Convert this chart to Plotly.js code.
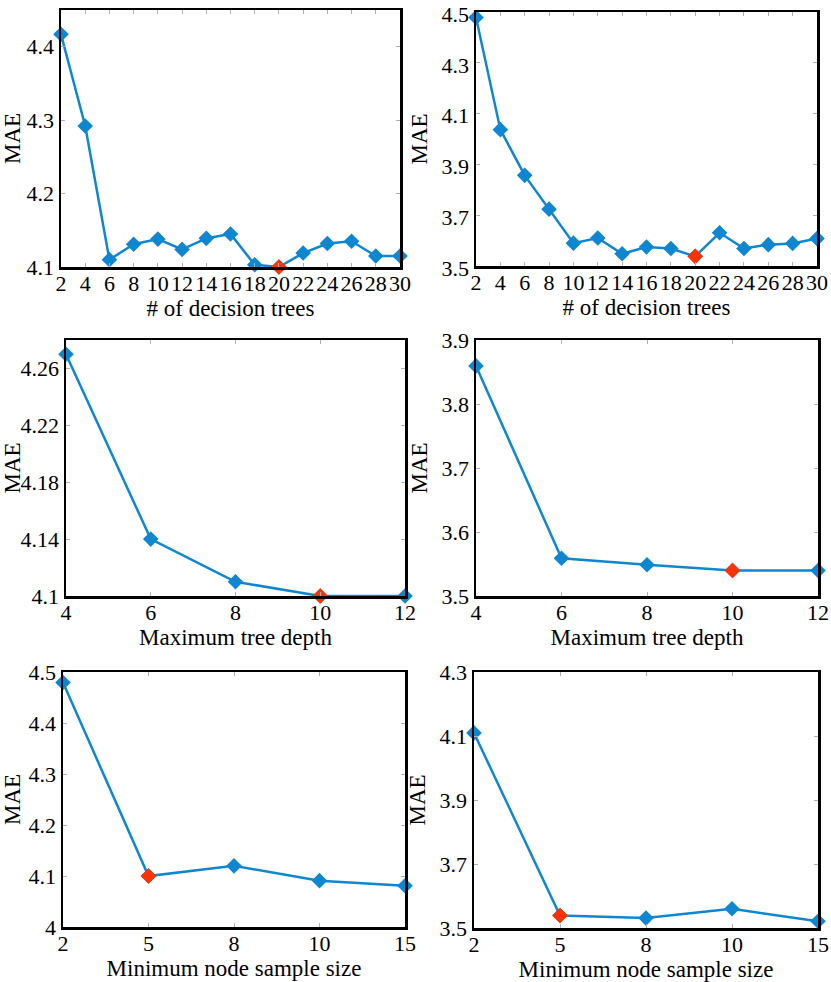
<!DOCTYPE html>
<html>
<head>
<meta charset="utf-8">
<script src="https://cdn.plot.ly/plotly-3.0.1.min.js"></script>
<style>
  body { margin: 0; background: #fff; }
  #chart { width: 831px; height: 982px; }
</style>
</head>
<body>
<div id="chart"></div>
<script>
// number of trees (top row)
var treesX = [2, 4, 6, 8, 10, 12, 14, 16, 18, 20, 22, 24, 26, 28, 30];
var treesLeft = [4.417, 4.292, 4.110, 4.131, 4.138, 4.124, 4.139, 4.145, 4.103, 4.100, 4.119, 4.132, 4.135, 4.115, 4.115];
var treesRight = [4.479, 4.037, 3.857, 3.724, 3.590, 3.610, 3.548, 3.575, 3.569, 3.538, 3.631, 3.569, 3.584, 3.589, 3.608];

// max depth (middle row)
var depthX = [4, 6, 8, 10, 12];
var depthLeft = [4.270, 4.140, 4.110, 4.100, 4.100];
var depthRight = [3.860, 3.559, 3.549, 3.540, 3.540];

// min node sample size (bottom row)
var nodeX = ['2', '5', '8', '10', '15'];
var nodeLeft = [4.48, 4.100, 4.120, 4.091, 4.081];
var nodeRight = [4.11, 3.539, 3.531, 3.560, 3.521];

// index of the best (red) point in each panel
var bestIdx = [9, 9, 3, 3, 1, 1];

var blue = '#0f86d0';
var red = '#ff3300';
var W = 831, H = 982;

// plot boxes in pixels: left, top, right, bottom
var boxes = [
  [61, 10, 400, 267], [476, 12, 817, 266],
  [66, 340, 405, 596], [476, 340, 818, 596],
  [63, 672, 405, 927], [474, 672, 818, 928]
];

var panels = [
  {x: treesX, y: treesLeft, title: '# of decision trees', xr: [2, 30], dx: 2, yr: [4.1, 4.45], yt: [4.1, 4.2, 4.3, 4.4]},
  {x: treesX, y: treesRight, title: '# of decision trees', xr: [2, 30], dx: 2, yr: [3.5, 4.5005], yt: [3.5, 3.7, 3.9, 4.1, 4.3, 4.5], shift: 2},
  {x: depthX, y: depthLeft, title: 'Maximum tree depth', xr: [4, 12], dx: 2, yr: [4.1, 4.28], yt: [4.1, 4.14, 4.18, 4.22, 4.26]},
  {x: depthX, y: depthRight, title: 'Maximum tree depth', xr: [4, 12], dx: 2, yr: [3.5, 3.9005], yt: [3.5, 3.6, 3.7, 3.8, 3.9]},
  {x: nodeX, y: nodeLeft, title: 'Minimum node sample size', xr: [0, 4], cat: true, yr: [4.0, 4.5005], yt: [4, 4.1, 4.2, 4.3, 4.4, 4.5]},
  {x: nodeX, y: nodeRight, title: 'Minimum node sample size', xr: [0, 4], cat: true, yr: [3.5, 4.3005], yt: [3.5, 3.7, 3.9, 4.1, 4.3]}
];

var font = 'Liberation Serif, Times New Roman, serif';
var data = [];
var layout = {
  width: W, height: H,
  margin: {l: 0, r: 0, t: 0, b: 0},
  paper_bgcolor: '#fff', plot_bgcolor: '#fff',
  showlegend: false,
  font: {family: font, size: 22, color: '#000'}
};

for (var i = 0; i < panels.length; i++) {
  var p = panels[i];
  var n = i + 1;
  var xa = 'x' + (n > 1 ? n : '');
  var ya = 'y' + (n > 1 ? n : '');
  var b = boxes[i];

  data.push({
    x: p.x, y: p.y, xaxis: xa, yaxis: ya,
    type: 'scatter', mode: 'lines+markers',
    line: {color: blue, width: 2.5},
    marker: {symbol: 'diamond', size: 12, color: blue},
    cliponaxis: false
  });
  data.push({
    x: [p.x[bestIdx[i]]], y: [p.y[bestIdx[i]]], xaxis: xa, yaxis: ya,
    type: 'scatter', mode: 'markers',
    marker: {symbol: 'diamond', size: 12, color: red},
    cliponaxis: false
  });

  var xax = {
    domain: [b[0] / W, b[2] / W],
    anchor: ya,
    range: p.xr,
    showgrid: false, zeroline: false,
    showline: true, linecolor: '#000', linewidth: 2.5, mirror: 'allticks',
    ticks: 'inside', ticklen: 4, tickcolor: '#b0b0b0', tickwidth: 1,
    tickfont: {family: font, size: 22},
    ticklabelstandoff: -5,
    ticklabeloverflow: 'allow',
    title: {text: p.title, font: {family: font, size: 23}, standoff: 4}
  };
  if (p.cat) {
    xax.type = 'category';
  } else {
    xax.tickmode = 'linear'; xax.tick0 = p.xr[0]; xax.dtick = p.dx;
  }
  var yax = {
    domain: [1 - b[3] / H, 1 - b[1] / H],
    anchor: xa,
    range: p.yr,
    tickmode: 'array', tickvals: p.yt,
    showgrid: false, zeroline: false,
    showline: true, linecolor: '#000', linewidth: 2.5, mirror: 'allticks',
    ticks: 'inside', ticklen: 4, tickcolor: '#b0b0b0', tickwidth: 1,
    tickfont: {family: font, size: 22},
    ticklabeloverflow: 'allow',
    title: {text: 'MAE', font: {family: font, size: 23}, standoff: 8}
  };
  if (p.shift) yax.ticklabelshift = p.shift;
  layout['xaxis' + (n > 1 ? n : '')] = xax;
  layout['yaxis' + (n > 1 ? n : '')] = yax;
}

Plotly.newPlot('chart', data, layout, {staticPlot: true});
</script>
</body>
</html>
